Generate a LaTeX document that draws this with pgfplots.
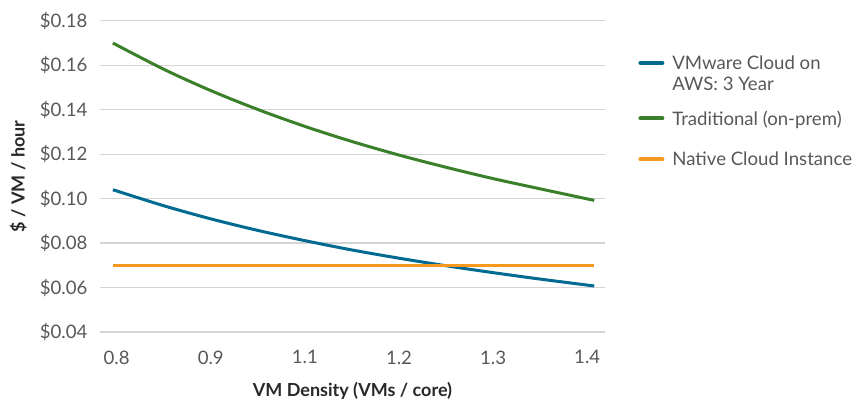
\documentclass[border=0pt]{standalone}
\usepackage{fontspec}
\setmainfont{Lato}
\usepackage{pgfplots}
\pgfplotsset{compat=1.18}

\definecolor{vmcblue}{RGB}{0,106,145}
\definecolor{tradgreen}{RGB}{58,128,42}
\definecolor{nativeorange}{RGB}{245,152,30}
\definecolor{gridgray}{RGB}{212,212,212}
\definecolor{ticktext}{RGB}{88,88,88}
\definecolor{labeltext}{RGB}{40,40,40}

\begin{document}
\fontsize{9.3}{11}\selectfont
\begin{tikzpicture}
\useasboundingbox (-50pt,-34pt) rectangle (383.5pt,166pt);
\begin{axis}[
  at={(0,0)}, anchor=south west,
  scale only axis, width=252.5pt, height=155.6pt,
  xmin=-0.177, xmax=5.189, ymin=0.04, ymax=0.18,
  axis line style={draw=none},
  major tick style={draw=none},
  ymajorgrids, grid style={gridgray, line width=0.6pt},
  ytick={0.04,0.06,0.08,0.10,0.12,0.14,0.16,0.18},
  xtick={0,1,2,3,4,5},
  xticklabels={0.8,0.9,1.1,1.2,1.3,1.4},
  /pgf/number format/assume math mode=true,
  yticklabel={\$\pgfmathprintnumber[fixed,fixed zerofill,precision=2]{\tick}},
  ticklabel style={font=\fontsize{9.3}{11}\selectfont, text=ticktext},
  yticklabel style={xshift=-3pt},
  xticklabel style={yshift=-6pt},
  xlabel={\textbf{VM Density (VMs / core)}},
  ylabel={\textbf{\$ / VM / hour}},
  every axis x label/.style={at={(axis description cs:0.5,-0.19)}, anchor=center,
    font=\fontsize{9}{11}\selectfont, text=labeltext},
  every axis y label/.style={at={(axis description cs:-0.162,0.5)}, rotate=90, anchor=center,
    font=\fontsize{9}{11}\selectfont, text=labeltext},
  legend style={at={(axis description cs:1,1)}, anchor=north west,
    xshift=16.5pt, yshift=-16.15pt, draw=none, fill=none, inner sep=0pt,
    row sep=0pt, column sep=4pt,
    font=\fontsize{9.3}{11}\selectfont, text=ticktext,
    nodes={anchor=base west, inner sep=0pt}},
  legend image code/.code={\draw[#1, line width=2pt, line cap=round] (0pt,3.3pt) -- (11pt,3.3pt);},
]
\addplot[vmcblue, line width=1.5pt, smooth] coordinates {
  (-0.04,0.1040) (0.5,0.0968) (1,0.0909) (1.5,0.0857) (2,0.0811) (2.5,0.0769)
  (3,0.0732) (3.5,0.0698) (4,0.0667) (4.5,0.0638) (5.075,0.0607)
};
\addlegendentry{\rule[-2pt]{0pt}{10pt}VMware Cloud on}
\addlegendimage{empty legend}
\addlegendentry{\rule[-2pt]{0pt}{11pt}AWS: 3 Year}
\addplot[tradgreen, line width=1.5pt, smooth] coordinates {
  (-0.04,0.1700) (0.5,0.1582) (1,0.1486) (1.5,0.1401) (2,0.1325) (2.5,0.1257)
  (3,0.1196) (3.5,0.1141) (4,0.1090) (4.5,0.1044) (5.075,0.0992)
};
\addlegendentry{\rule[-2pt]{0pt}{18pt}Traditional (on-prem)}
\addplot[nativeorange, line width=1.5pt] coordinates {
  (-0.04,0.0698) (5.075,0.0698)
};
\addlegendentry{\rule[-2pt]{0pt}{21pt}Native Cloud Instance}
\end{axis}
\end{tikzpicture}
\end{document}
